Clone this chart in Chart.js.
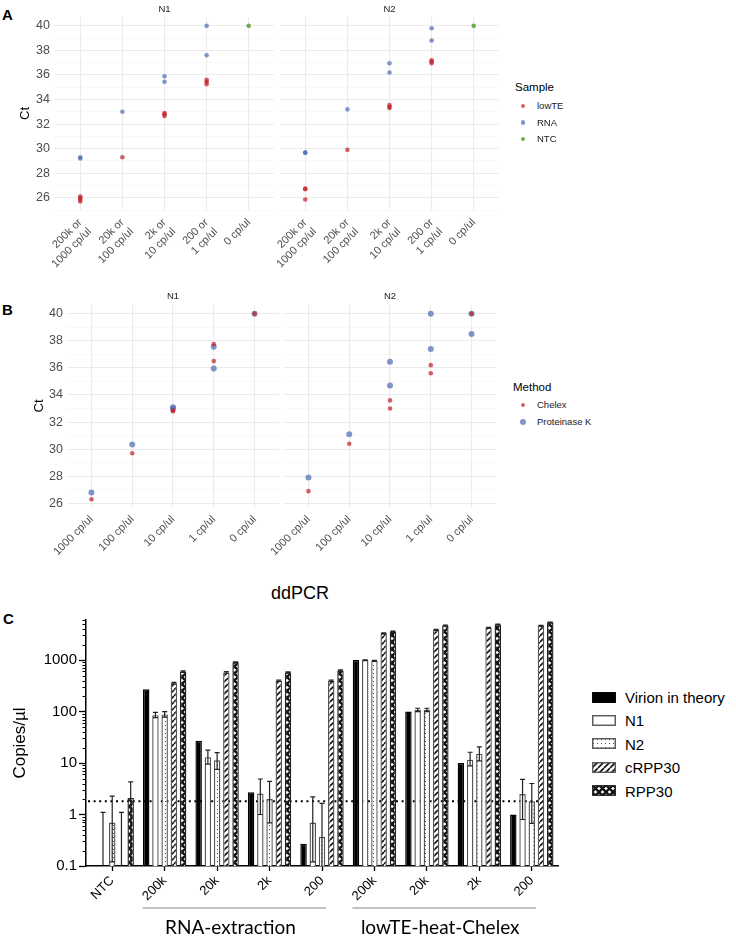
<!DOCTYPE html>
<html>
<head>
<meta charset="utf-8">
<script src="https://cdn.jsdelivr.net/npm/chart.js@4/dist/chart.umd.min.js"></script>
<style>
  body { margin: 0; background: #fff; width: 736px; height: 945px; position: relative; overflow: hidden;
         font-family: "Liberation Sans", Arial, sans-serif; }
  canvas { position: absolute; }
  .t { position: absolute; white-space: nowrap; line-height: 1; transform: translateY(-50%); }
  .dot { position: absolute; border-radius: 50%; }
</style>
</head>
<body>
<div class="t" style="left:2px;top:14px;font-size:15px;font-weight:bold">A</div>
<div class="t" style="left:2px;top:309px;font-size:15px;font-weight:bold">B</div>
<div class="t" style="left:3px;top:618px;font-size:15px;font-weight:bold">C</div>
<div class="t" style="left:271px;top:593px;font-size:18px">ddPCR</div>

<canvas id="a1" width="278" height="272" style="left:0;top:0"></canvas>
<canvas id="a2" width="278" height="272" style="left:226px;top:0"></canvas>
<canvas id="b1" width="282" height="285" style="left:0;top:285px"></canvas>
<canvas id="b2" width="272" height="285" style="left:230px;top:285px"></canvas>
<canvas id="c" width="562" height="345" style="left:0;top:600px"></canvas>
<div id="legends"></div>

<script>
Chart.defaults.font.family = "'Liberation Sans', Arial, sans-serif";

// ---- Panel A: qPCR Ct by dilution (values per category) ----
const catsA = [['200k or', '1000 cp/ul'], ['20k or', '100 cp/ul'], ['2k or', '10 cp/ul'], ['200 or', '1 cp/ul'], '0 cp/ul'];
const aN1LowTE = [[26.1, 26.0, 25.85, 25.7], [29.3], [32.9, 32.8, 32.65], [35.6, 35.45, 35.25], []];
const aN1RNA   = [[29.3, 29.2], [33.0], [35.9, 35.45], [40.0, 37.6], []];
const aN1NTC   = [[], [], [], [], [40.0]];
const aN2LowTE = [[26.75, 26.7, 25.85], [29.9], [33.55, 33.4, 33.3], [37.2, 37.1, 36.95], []];
const aN2RNA   = [[29.7, 29.65], [33.2], [36.95, 36.2], [39.8, 38.8], []];
const aN2NTC   = [[], [], [], [], [40.0]];

// ---- Panel B: Chelex vs Proteinase K ----
const catsB = ['1000 cp/ul', '100 cp/ul', '10 cp/ul', '1 cp/ul', '0 cp/ul'];
const bN1Chelex = [[26.3], [29.7], [32.85, 32.8], [37.75, 36.5], [40.0]];
const bN1ProtK  = [[26.8], [30.35], [33.1, 33.0], [37.55, 35.95], [40.0]];
const bN2Chelex = [[26.9], [30.4], [33.6, 33.0], [36.2, 35.6], [40.0]];
const bN2ProtK  = [[27.9], [31.1], [36.45, 34.7], [40.0, 37.4], [40.0, 38.5]];

// ---- Panel C: ddPCR copies/ul ----
const groupsC = ['NTC', '200k', '20k', '2k', '200', '200k', '20k', '2k', '200'];
const virion = [null, 270, 27, 2.7, 0.27, 1000, 100, 10, 1];
const n1     = [null, 85, 13, 2.55, 0.7, 1000, 108, 11.6, 2.5];
const n1Lo   = [0.1, 76, 9.5, 1.0, 0.12, 985, 100, 8.8, 0.8];
const n1Hi   = [1.1, 96, 17.8, 4.9, 2.2, 1015, 116, 16.2, 4.8];
const n2     = [0.7, 88, 11.3, 2.0, 0.37, 970, 108, 15.2, 1.8];
const n2Lo   = [0.12, 78, 7.5, 0.69, 0.1, 955, 100, 11, 0.67];
const n2Hi   = [2.28, 100, 15.9, 4.4, 1.64, 985, 116, 20.6, 4.0];
const crpp   = [null, 355, 575, 398, 398, 3300, 3880, 4240, 4650];
const crppLo = [0.1, 340, 555, 385, 385, 3240, 3820, 4180, 4580];
const crppHi = [1.1, 370, 595, 410, 410, 3360, 3940, 4300, 4720];
const rpp    = [2.1, 597, 906, 575, 624, 3590, 4700, 4920, 5400];
const rppLo  = [0.1, 580, 885, 560, 605, 3530, 4640, 4860, 5330];
const rppHi  = [4.3, 615, 925, 590, 642, 3650, 4760, 4980, 5470];
const lod = 1.8;
const methodGroups = [{ label: 'RNA-extraction', from: 1, to: 4 }, { label: 'lowTE-heat-Chelex', from: 5, to: 8 }];

const RED = 'rgba(195,30,40,0.7)', BLUE = 'rgba(80,110,180,0.72)', GREEN = 'rgba(75,155,40,0.8)';

function toPoints(lists) {
  return lists.flatMap((vals, i) => vals.map(v => ({ x: i, y: v })));
}
function range(a, b) { const r = []; for (let v = a; v <= b; v++) r.push(v); return r; }

function facet(id, title, cats, series, o) {
  const grid = range(Math.ceil(o.yMin), Math.floor(o.yMax));
  return new Chart(document.getElementById(id), {
    type: 'scatter',
    data: {
      datasets: series.map(s => ({
        label: s.label, data: toPoints(s.values), backgroundColor: s.color,
        pointRadius: s.r, pointHoverRadius: s.r, pointBorderWidth: 0
      }))
    },
    options: {
      responsive: false, animation: false, events: [],
      layout: { padding: { right: o.padRight } },
      plugins: {
        legend: { display: false }, tooltip: { enabled: false },
        title: { display: true, text: title, fullSize: false, color: '#1a1a1a',
                 font: { size: 9.5, weight: 'normal' }, padding: { top: o.titleTop, bottom: o.titleBottom } }
      },
      scales: {
        x: {
          type: 'linear', min: -0.6, max: 4.6,
          afterBuildTicks: s => { s.ticks = cats.map((c, i) => ({ value: i })); },
          afterFit: s => { s.height = o.xHeight; s.paddingLeft = 0; s.paddingRight = 0; },
          grid: { color: '#ebebeb', lineWidth: 1.1, drawTicks: false },
          border: { display: false },
          ticks: { color: '#4d4d4d', font: { size: 11 }, minRotation: 45, maxRotation: 45,
                   autoSkip: false, padding: 6, callback: v => cats[v] }
        },
        y: {
          min: o.yMin, max: o.yMax,
          afterBuildTicks: s => { s.ticks = grid.map(v => ({ value: v })); },
          afterFit: s => { s.width = o.yWidth; },
          grid: { drawTicks: false,
                  color: c => c.tick.value % 2 === 0 ? '#ebebeb' : '#f4f4f4',
                  lineWidth: c => c.tick.value % 2 === 0 ? 1.1 : 0.6 },
          border: { display: false },
          ticks: { display: o.showY, color: '#4d4d4d', font: { size: 12.5 }, padding: o.yPad,
                   autoSkip: false, callback: v => v % 2 === 0 ? v : '' },
          title: { display: o.showY, text: 'Ct', color: '#000', font: { size: 13 },
                   padding: { top: o.titlePad, bottom: 0 } }
        }
      }
    }
  });
}

const optA = { yMin: 25, yMax: 40.72, xHeight: 62, titleTop: 3.3, titleBottom: 2.3 };
facet('a1', 'N1', catsA, [
  { label: 'lowTE', values: aN1LowTE, color: RED, r: 2.3 },
  { label: 'RNA', values: aN1RNA, color: BLUE, r: 2.3 },
  { label: 'NTC', values: aN1NTC, color: GREEN, r: 2.3 }
], Object.assign({}, optA, { yWidth: 55, padRight: 4, showY: true, yPad: 5, titlePad: 18 }));
facet('a2', 'N2', catsA, [
  { label: 'lowTE', values: aN2LowTE, color: RED, r: 2.3 },
  { label: 'RNA', values: aN2RNA, color: BLUE, r: 2.3 },
  { label: 'NTC', values: aN2NTC, color: GREEN, r: 2.3 }
], Object.assign({}, optA, { yWidth: 54, padRight: 5, showY: false, yPad: 5, titlePad: 0 }));

const optB = { yMin: 25.73, yMax: 40.64, xHeight: 63, titleTop: 5.3, titleBottom: 3.3 };
facet('b1', 'N1', catsB, [
  { label: 'Chelex', values: bN1Chelex, color: RED, r: 2.3 },
  { label: 'Proteinase K', values: bN1ProtK, color: BLUE, r: 3 }
], Object.assign({}, optB, { yWidth: 67, padRight: 3, showY: true, yPad: 4, titlePad: 32 }));
facet('b2', 'N2', catsB, [
  { label: 'Chelex', values: bN2Chelex, color: RED, r: 2.3 },
  { label: 'Proteinase K', values: bN2ProtK, color: BLUE, r: 3 }
], Object.assign({}, optB, { yWidth: 54, padRight: 6, showY: false, yPad: 4, titlePad: 0 }));

// ---- hatch patterns for panel C ----
function makePattern(kind) {
  const c = document.createElement('canvas');
  const p = c.getContext('2d');
  const n = kind === 'dots' ? 4 : kind === 'diag' ? 6 : 7;
  c.width = n; c.height = n;
  p.fillStyle = '#fff'; p.fillRect(0, 0, n, n);
  if (kind === 'dots') {
    p.fillStyle = '#555'; p.fillRect(1, 1, 1, 1);
  } else {
    p.strokeStyle = '#111';
    p.lineWidth = kind === 'diag' ? 1.6 : 2.3;
    p.beginPath();
    for (const k of [-n, 0, n]) { p.moveTo(k, n); p.lineTo(k + n, 0); }
    if (kind === 'cross') for (const k of [-n, 0, n]) { p.moveTo(k, 0); p.lineTo(k + n, n); }
    p.stroke();
  }
  return p.createPattern(c, 'repeat');
}

const seriesC = [
  { label: 'Virion in theory', data: virion, bg: '#000', border: '#000' },
  { label: 'N1', data: n1, bg: '#fff', border: '#555', lo: n1Lo, hi: n1Hi },
  { label: 'N2', data: n2, bg: makePattern('dots'), border: '#555', lo: n2Lo, hi: n2Hi },
  { label: 'cRPP30', data: crpp, bg: makePattern('diag'), border: '#555', lo: crppLo, hi: crppHi },
  { label: 'RPP30', data: rpp, bg: makePattern('cross'), border: '#222', lo: rppLo, hi: rppHi }
];

const yTicksC = [];
for (const d of [0.1, 1, 10, 100, 1000]) for (let m = 1; m <= 9; m++) if (d * m <= 6000) yTicksC.push(d * m);
const majorC = { 0.1: '0.1', 1: '1', 10: '10', 100: '100', 1000: '1000' };

const lodLine = {
  id: 'lodLine',
  beforeDatasetsDraw(chart) {
    const { ctx, chartArea: a, scales: { y } } = chart;
    const py = y.getPixelForValue(lod);
    ctx.save();
    ctx.strokeStyle = '#000'; ctx.lineWidth = 2; ctx.setLineDash([2, 3.6]);
    ctx.beginPath(); ctx.moveTo(a.left + 2, py); ctx.lineTo(a.right - 8, py); ctx.stroke();
    ctx.restore();
  }
};

const errorBars = {
  id: 'errorBars',
  afterDatasetsDraw(chart) {
    const { ctx, scales: { y } } = chart;
    ctx.save();
    ctx.strokeStyle = '#222'; ctx.lineWidth = 1.2;
    chart.data.datasets.forEach((ds, di) => {
      if (!ds.errLo) return;
      chart.getDatasetMeta(di).data.forEach((bar, i) => {
        const lo = ds.errLo[i], hi = ds.errHi[i];
        if (lo == null || hi == null) return;
        const yLo = y.getPixelForValue(Math.max(lo, y.min));
        const yHi = y.getPixelForValue(hi);
        ctx.beginPath();
        ctx.moveTo(bar.x, yLo); ctx.lineTo(bar.x, yHi);
        ctx.moveTo(bar.x - 2.5, yHi); ctx.lineTo(bar.x + 2.5, yHi);
        if (lo > y.min) { ctx.moveTo(bar.x - 2.5, yLo); ctx.lineTo(bar.x + 2.5, yLo); }
        ctx.stroke();
      });
    });
    ctx.restore();
  }
};

const minorTicks = {
  id: 'minorTicks',
  afterDraw(chart) {
    const { ctx, scales: { y } } = chart;
    ctx.save();
    ctx.strokeStyle = '#000'; ctx.lineWidth = 1;
    yTicksC.filter(v => !(v in majorC)).forEach(v => {
      const py = Math.round(y.getPixelForValue(v)) + 0.5;
      ctx.beginPath(); ctx.moveTo(y.right - 3.5, py); ctx.lineTo(y.right, py); ctx.stroke();
    });
    ctx.restore();
  }
};

const groupBrackets = {
  id: 'groupBrackets',
  afterDraw(chart) {
    const { ctx, chartArea: a, scales: { x } } = chart;
    const step = x.getPixelForValue(1) - x.getPixelForValue(0);
    ctx.save();
    methodGroups.forEach(g => {
      const x0 = x.getPixelForValue(g.from) - 0.42 * step;
      const x1 = x.getPixelForValue(g.to) + 0.08 * step;
      const ly = a.bottom + 42;
      ctx.strokeStyle = '#888'; ctx.lineWidth = 1;
      ctx.beginPath(); ctx.moveTo(x0, ly); ctx.lineTo(x1, ly); ctx.stroke();
      ctx.fillStyle = '#000'; ctx.font = '19px Lato, "Liberation Sans", sans-serif';
      ctx.textAlign = 'center'; ctx.textBaseline = 'middle';
      ctx.fillText(g.label, (x0 + x1) / 2 - 4, ly + 20);
    });
    ctx.restore();
  }
};

new Chart(document.getElementById('c'), {
  type: 'bar',
  data: {
    labels: groupsC,
    datasets: seriesC.map(s => ({
      label: s.label, data: s.data, backgroundColor: s.bg, borderColor: s.border,
      borderWidth: 1.4, categoryPercentage: 0.88, barPercentage: 0.7,
      errLo: s.lo, errHi: s.hi
    }))
  },
  options: {
    responsive: false, animation: false, events: [],
    layout: { padding: { top: 20, right: 4 } },
    plugins: { legend: { display: false }, tooltip: { enabled: false } },
    scales: {
      x: {
        afterFit: s => { s.height = 79; s.paddingLeft = 0; s.paddingRight = 0; },
        grid: { offset: false, drawOnChartArea: false, tickLength: 5, tickColor: '#000', tickWidth: 1.3 },
        border: { color: '#000', width: 1.5 },
        ticks: { color: '#000', font: { size: 13 }, minRotation: 45, maxRotation: 45, autoSkip: false, padding: 2 }
      },
      y: {
        type: 'logarithmic', min: 0.1, max: 6000,
        afterBuildTicks: s => { s.ticks = yTicksC.map(v => ({ value: v })); },
        afterFit: s => { s.width = 86; },
        grid: { drawOnChartArea: false, tickLength: 7, tickWidth: 1.3,
                tickColor: c => (c.tick.value in majorC) ? '#000' : 'rgba(0,0,0,0)' },
        border: { color: '#000', width: 1.5 },
        ticks: { color: '#000', font: { size: 15 }, padding: 2, autoSkip: false,
                 callback: v => majorC[v] || '' },
        title: { display: true, text: 'Copies/µl', color: '#000', font: { size: 17 },
                 padding: { top: 10, bottom: 0 } }
      }
    }
  },
  plugins: [lodLine, errorBars, minorTicks, groupBrackets]
});

// ---- legends ----
const legendBox = document.getElementById('legends');
function addText(text, left, top, size, color) {
  const d = document.createElement('div');
  d.className = 't'; d.textContent = text;
  d.style.cssText = `left:${left}px;top:${top}px;font-size:${size}px;color:${color}`;
  legendBox.appendChild(d);
}
function addDot(cx, cy, r, color) {
  const d = document.createElement('div');
  d.className = 'dot';
  d.style.cssText = `left:${cx - r}px;top:${cy - r}px;width:${2 * r}px;height:${2 * r}px;background:${color}`;
  legendBox.appendChild(d);
}
addText('Sample', 515, 88, 11.5, '#000');
[['lowTE', RED], ['RNA', BLUE], ['NTC', GREEN]].forEach(([t, c], i) => {
  addDot(523, 106 + i * 16.6, 2.3, c);
  addText(t, 537, 106 + i * 16.6, 9.5, '#1a1a1a');
});
addText('Method', 513, 388, 11.5, '#000');
[['Chelex', RED, 2.3], ['Proteinase K', BLUE, 3]].forEach(([t, c, r], i) => {
  addDot(523, 405 + i * 17, r, c);
  addText(t, 537, 405 + i * 17, 9.5, '#1a1a1a');
});
seriesC.forEach((s, i) => {
  const y = 697 + i * 23.4;
  const sw = document.createElement('canvas');
  sw.width = 24; sw.height = 11;
  sw.style.cssText = `left:592px;top:${y - 5.5}px`;
  const p = sw.getContext('2d');
  p.fillStyle = s.bg; p.fillRect(0.75, 0.75, 22.5, 9.5);
  p.strokeStyle = s.border; p.lineWidth = 1.4; p.strokeRect(0.75, 0.75, 22.5, 9.5);
  legendBox.appendChild(sw);
  addText(s.label, 625, y, 15, '#000');
});
</script>
</body>
</html>
